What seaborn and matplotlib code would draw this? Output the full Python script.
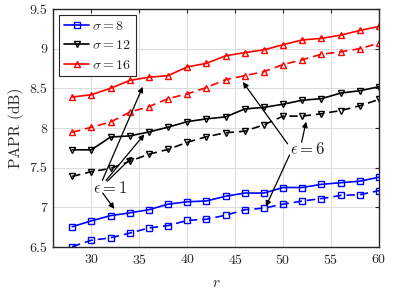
import numpy as np
import pandas as pd
import matplotlib
matplotlib.use("Agg")
import matplotlib.pyplot as plt
import seaborn as sns

r = [28, 30, 32, 34, 36, 38, 40, 42, 44, 46, 48, 50, 52, 54, 56, 58, 60]

s8_e1 = [6.755, 6.83, 6.895, 6.93, 6.97, 7.04, 7.07, 7.08, 7.14, 7.18, 7.18, 7.25, 7.25, 7.29, 7.31, 7.33, 7.38]
s8_e6 = [6.505, 6.585, 6.615, 6.675, 6.74, 6.77, 6.835, 6.85, 6.90, 6.97, 6.99, 7.04, 7.08, 7.11, 7.15, 7.16, 7.21]
s12_e1 = [7.725, 7.725, 7.886, 7.90, 7.95, 8.01, 8.08, 8.115, 8.14, 8.24, 8.26, 8.30, 8.35, 8.37, 8.44, 8.47, 8.52]
s12_e6 = [7.39, 7.45, 7.49, 7.58, 7.67, 7.73, 7.82, 7.89, 7.94, 7.96, 8.04, 8.15, 8.15, 8.18, 8.22, 8.28, 8.36]
s16_e1 = [8.39, 8.42, 8.50, 8.60, 8.64, 8.66, 8.77, 8.815, 8.91, 8.95, 8.985, 9.05, 9.11, 9.13, 9.17, 9.23, 9.28]
s16_e6 = [7.945, 8.01, 8.075, 8.20, 8.27, 8.37, 8.43, 8.51, 8.61, 8.66, 8.71, 8.80, 8.86, 8.93, 8.96, 9.00, 9.07]

labels = [r"$\sigma = 8$", r"$\sigma = 12$", r"$\sigma = 16$"]
colors = ["#0000ff", "#000000", "#ff0000"]
markers = ["s", "v", "^"]

sns.set_style("white")
plt.rcParams["font.family"] = ["cmr10", "DejaVu Serif"]
plt.rcParams["mathtext.fontset"] = "cm"
plt.rcParams["axes.formatter.use_mathtext"] = True

fig = plt.figure(figsize=(4.09, 2.90), dpi=100)
ax = fig.add_axes([53/409, 1-247/290, (379-53)/409, (247-9)/290])

series = [(s8_e1, s8_e6), (s12_e1, s12_e6), (s16_e1, s16_e6)]
for (e1, e6), lab, c, m in zip(series, labels, colors, markers):
    df1 = pd.DataFrame({"r": r, "papr": e1})
    df6 = pd.DataFrame({"r": r, "papr": e6})
    sns.lineplot(data=df1, x="r", y="papr", ax=ax, color=c, marker=m,
                 markersize=5, markerfacecolor="none", markeredgecolor=c,
                 markeredgewidth=1.0, linewidth=1.2, label=lab)
    sns.lineplot(data=df6, x="r", y="papr", ax=ax, color=c, marker=m,
                 markersize=5, markerfacecolor="none", markeredgecolor=c,
                 markeredgewidth=1.0, linewidth=1.2, linestyle=(0, (5, 3)),
                 label="_nolegend_")

ax.set_xlim(26, 60)
ax.set_ylim(6.5, 9.5)
ax.set_xticks([30, 35, 40, 45, 50, 55, 60])
ax.set_yticks([6.5, 7, 7.5, 8, 8.5, 9, 9.5])
ax.set_yticklabels(["6.5", "7", "7.5", "8", "8.5", "9", "9.5"])
ax.grid(True, color="#dcdcdc", linewidth=0.8)
ax.set_axisbelow(True)
for sp in ax.spines.values():
    sp.set_color("#262626")
    sp.set_linewidth(1.0)
ax.tick_params(direction="in", top=True, right=True, length=3, width=0.8,
               labelsize=10, colors="#262626", labelcolor="#262626", pad=4)
ax.set_xlabel(r"$r$", fontsize=11, labelpad=7)
ax.set_ylabel("PAPR (dB)", fontsize=11, labelpad=4)

leg = ax.legend(loc="upper left", fontsize=10, frameon=True, fancybox=False,
                edgecolor="#262626", framealpha=1, handlelength=1.8,
                handletextpad=0.2, borderpad=0.35, labelspacing=0.45,
                borderaxespad=0.45)
leg.get_frame().set_linewidth(0.8)

ap = dict(arrowstyle="-|>", color="black", lw=0.9, mutation_scale=8,
          shrinkA=0, shrinkB=0)
ax.text(32.0, 7.24, r"$\epsilon = 1$", fontsize=12, ha="center", va="center")
for (sx, sy), (ex, ey) in [((31.15, 7.34), (35.36, 8.52)),
                           ((31.53, 7.34), (35.53, 7.92)),
                           ((31.67, 7.33), (34.3, 7.64)),
                           ((31.18, 7.18), (32.4, 6.98))]:
    ax.annotate("", xy=(ex, ey), xytext=(sx, sy), arrowprops=ap)

ax.text(52.55, 7.73, r"$\epsilon = 6$", fontsize=12, ha="center", va="center")
for (sx, sy), (ex, ey) in [((50.47, 7.80), (45.8, 8.58)),
                           ((51.93, 7.82), (52.4, 8.08)),
                           ((50.67, 7.66), (48.2, 7.01))]:
    ax.annotate("", xy=(ex, ey), xytext=(sx, sy), arrowprops=ap)

fig.savefig("out.png", dpi=100)
